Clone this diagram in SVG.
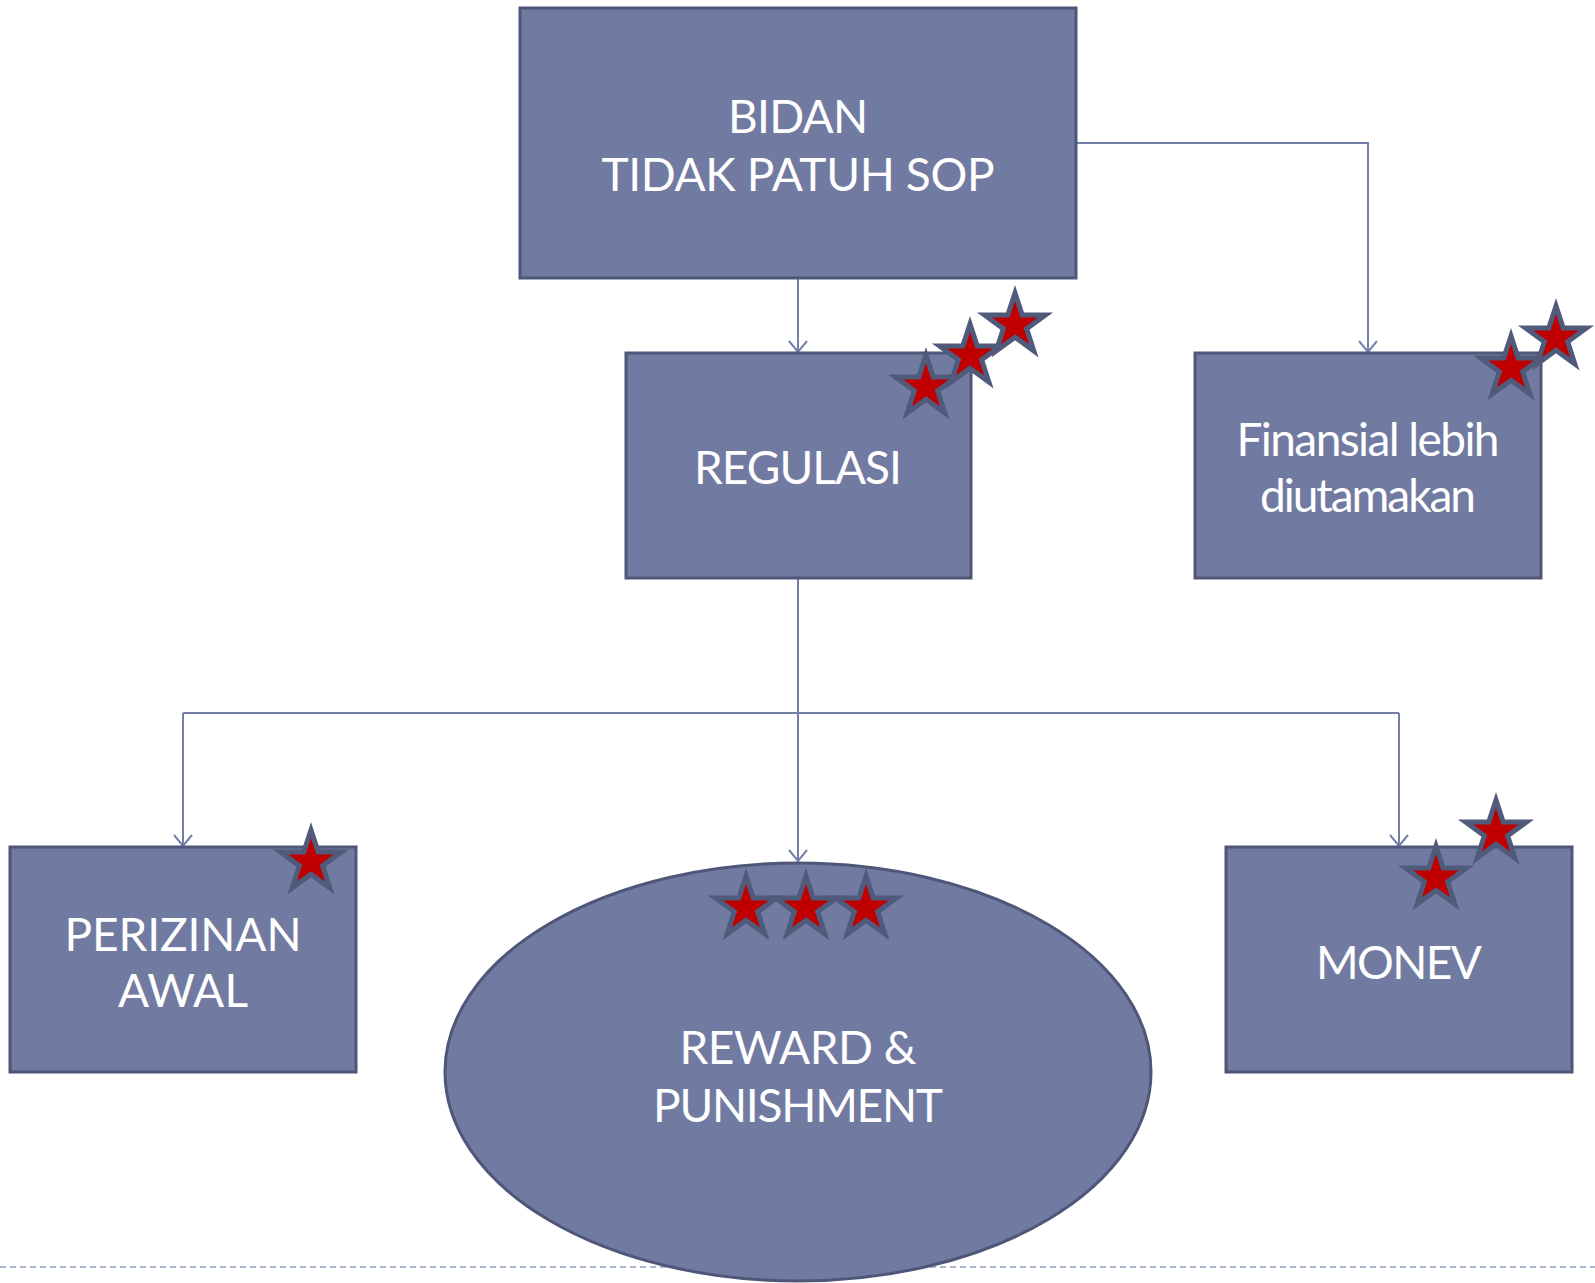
<svg xmlns="http://www.w3.org/2000/svg" width="1595" height="1283" viewBox="0 0 1595 1283">
<style>
.box{fill:#717ba1;stroke:#4f5779;stroke-width:3}
.lbl{font-family:Lato,"Open Sans","Liberation Sans",sans-serif;font-size:46px;fill:#ffffff;text-anchor:middle}
.con{fill:none;stroke:#7480aa;stroke-width:2}
.star{fill:#c00000;stroke:#505a7a;stroke-width:5;stroke-linejoin:miter}
</style>
<defs>
<marker id="arr" markerWidth="24" markerHeight="16" refX="11" refY="14" orient="0" markerUnits="userSpaceOnUse" viewBox="0 0 22 16">
<path d="M2,3 L11,14 L20,3" fill="none" stroke="#7480aa" stroke-width="2"/>
</marker>
<path id="st" d="M0,-32 L7.21,-9.92 L30.43,-9.89 L11.67,3.79 L18.81,25.89 L0,12.22 L-18.81,25.89 L-11.67,3.79 L-30.43,-9.89 L-7.21,-9.92 Z"/>
</defs>
<line x1="0" y1="1267" x2="1595" y2="1267" stroke="#a7b7cd" stroke-width="2" stroke-dasharray="6 4"/>
<g id="connectors">
<path class="con" d="M798,278 L798,352" marker-end="url(#arr)"/>
<path class="con" d="M1076,143 L1368,143 L1368,352" marker-end="url(#arr)"/>
<path class="con" d="M798,578 L798,861" marker-end="url(#arr)"/>
<path class="con" d="M183,713 L1399,713"/>
<path class="con" d="M183,713 L183,846" marker-end="url(#arr)"/>
<path class="con" d="M1399,713 L1399,846" marker-end="url(#arr)"/>
</g>
<g id="bidan">
<rect class="box" x="520" y="8" width="556" height="270"/>
<text class="lbl" x="798" y="133" textLength="140">BIDAN</text>
<text class="lbl" x="798" y="191" textLength="393">TIDAK PATUH SOP</text>
</g>
<g id="regulasi">
<rect class="box" x="626" y="353" width="345" height="225"/>
<text class="lbl" x="798" y="484" textLength="208">REGULASI</text>
<use href="#st" class="star" x="926" y="387"/>
<use href="#st" class="star" x="970" y="356"/>
<use href="#st" class="star" x="1015" y="325"/>
</g>
<g id="finansial">
<rect class="box" x="1195" y="353" width="346" height="225"/>
<text class="lbl" x="1368" y="456" textLength="263">Finansial lebih</text>
<text class="lbl" x="1368" y="512" textLength="216">diutamakan</text>
<use href="#st" class="star" x="1511" y="368"/>
<use href="#st" class="star" x="1556" y="338"/>
</g>
<g id="perizinan">
<rect class="box" x="10" y="847" width="346" height="225"/>
<text class="lbl" x="183" y="951" textLength="237">PERIZINAN</text>
<text class="lbl" x="183" y="1007" textLength="130">AWAL</text>
<use href="#st" class="star" x="311" y="862"/>
</g>
<g id="reward">
<ellipse class="box" cx="798" cy="1072" rx="353" ry="209"/>
<text class="lbl" x="798" y="1064" textLength="237">REWARD &amp;</text>
<text class="lbl" x="798" y="1122" textLength="290">PUNISHMENT</text>
<use href="#st" class="star" x="746" y="908"/>
<use href="#st" class="star" x="806" y="908"/>
<use href="#st" class="star" x="866" y="908"/>
</g>
<g id="monev">
<rect class="box" x="1226" y="847" width="346" height="225"/>
<text class="lbl" x="1399" y="979" textLength="166">MONEV</text>
<use href="#st" class="star" x="1436" y="878"/>
<use href="#st" class="star" x="1496" y="832"/>
</g>
</svg>
